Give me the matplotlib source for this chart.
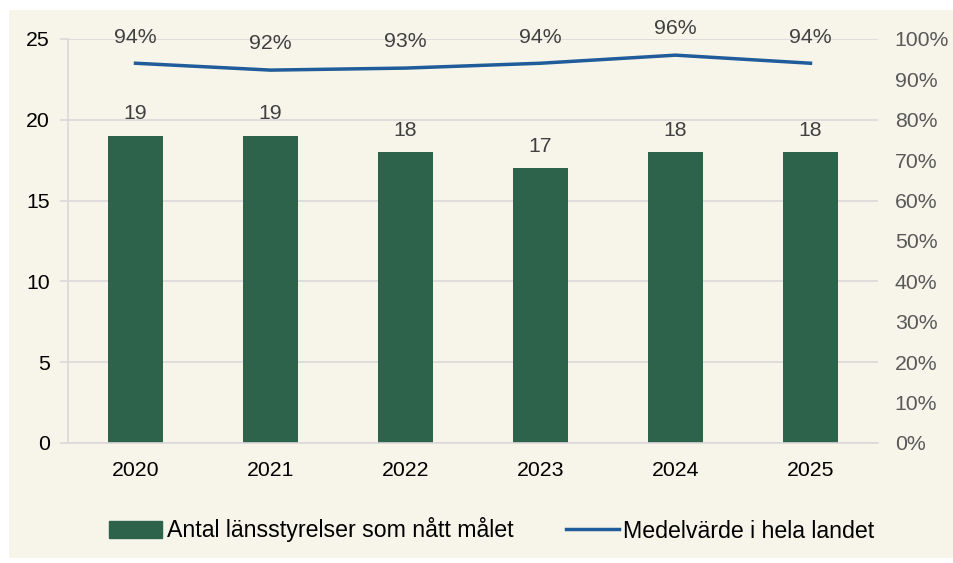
import numpy as np
import matplotlib
matplotlib.use('Agg')
import matplotlib.pyplot as plt
from matplotlib.patches import Rectangle
from matplotlib.lines import Line2D

plt.rcParams['font.family'] = ['Liberation Sans', 'DejaVu Sans']

years = ['2020', '2021', '2022', '2023', '2024', '2025']
antal = [19, 19, 18, 17, 18, 18]
medel = [0.94, 0.923, 0.928, 0.94, 0.96, 0.94]

bg = '#F7F5EA'
green = '#2D624B'
blue = '#1F5C99'
grid = '#D9D9D9'
fs = 15.3

fig = plt.figure(figsize=(9.54, 5.63), dpi=100, facecolor='white')
fig.add_artist(Rectangle((9/954, 5/563), 945/954, 548/563, transform=fig.transFigure,
                         facecolor=bg, edgecolor='none', zorder=-10))

ax = fig.add_axes([68/954, 1-443/563, 810/954, 404/563])
ax.set_facecolor('none')
x = np.arange(len(years))
ax.bar(x, antal, width=0.41, color=green, zorder=2)
for xi, v in zip(x, antal):
    ax.annotate(str(v), (xi, v), xytext=(0, 9), textcoords='offset points',
                ha='center', va='bottom', fontsize=fs, color='#404040')
ax.set_xlim(-0.5, len(years)-0.5)
ax.set_ylim(0, 25)
ax.set_yticks(range(0, 26, 5))
ax.set_xticks(x)
ax.set_xticklabels(years)
ax.grid(axis='y', color=grid, lw=1.2, zorder=0)
ax.set_axisbelow(True)
for s in ['top', 'right']:
    ax.spines[s].set_visible(False)
ax.spines['left'].set_color(grid)
ax.spines['bottom'].set_color(grid)
ax.spines['left'].set_linewidth(1.2)
ax.spines['bottom'].set_linewidth(1.2)
ax.tick_params(axis='y', length=6, color=grid, width=1.2, labelsize=fs, pad=7, labelcolor='black')
ax.tick_params(axis='x', length=0, labelsize=fs, pad=13, labelcolor='black')

ax2 = ax.twinx()
ax2.plot(x, medel, color=blue, lw=2.5, zorder=3)
for xi, v in zip(x, medel):
    ax2.annotate(f'{v*100:.0f}%', (xi, v), xytext=(0, 12), textcoords='offset points',
                 ha='center', va='bottom', fontsize=fs, color='#404040')
ax2.set_ylim(0, 1)
ax2.set_yticks(np.arange(0, 1.01, 0.1))
ax2.set_yticklabels([f'{int(round(t*100))}%' for t in np.arange(0, 1.01, 0.1)])
for s in ax2.spines.values():
    s.set_visible(False)
ax2.tick_params(axis='y', length=0, labelsize=fs, pad=12, labelcolor='#595959')

handles = [Rectangle((0, 0), 1, 1, color=green), Line2D([0], [0], color=blue, lw=2.5)]
labels = ['Antal länsstyrelser som nått målet', 'Medelvärde i hela landet']
fig.legend(handles, labels, loc='center', bbox_to_anchor=(492/954, 1-530/563), ncol=2,
           frameon=False, fontsize=16.7, handlelength=2.27, handleheight=0.8,
           columnspacing=2.27, handletextpad=0.2)

fig.savefig('out.png', dpi=100, facecolor=fig.get_facecolor())
